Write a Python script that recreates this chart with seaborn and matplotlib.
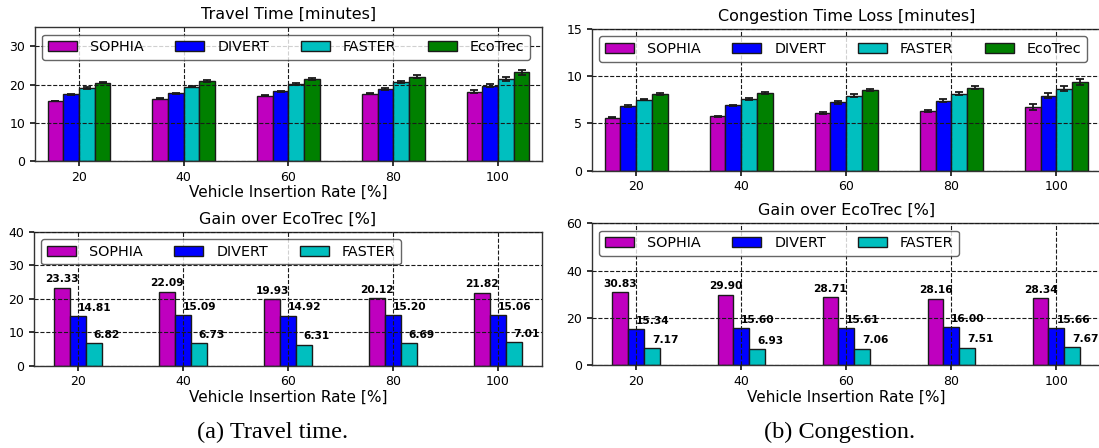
import matplotlib
matplotlib.use("Agg")
import matplotlib.pyplot as plt
import numpy as np
import pandas as pd
import seaborn as sns

# ---------------- data ----------------
rates = [20, 40, 60, 80, 100]
methods4 = ["SOPHIA", "DIVERT", "FASTER", "EcoTrec"]
methods3 = ["SOPHIA", "DIVERT", "FASTER"]

travel_sophia = [15.72, 16.28, 17.13, 17.65, 18.14]
travel_divert = [17.46, 17.75, 18.21, 18.74, 19.71]
travel_faster = [19.10, 19.49, 20.05, 20.62, 21.57]
travel_ecotrec = [20.50, 20.90, 21.40, 22.10, 23.20]
travel_err_sophia = [0.10, 0.15, 0.18, 0.22, 0.35]
travel_err_divert = [0.12, 0.17, 0.20, 0.28, 0.42]
travel_err_faster = [0.15, 0.20, 0.25, 0.32, 0.55]
travel_err_ecotrec = [0.15, 0.20, 0.28, 0.35, 0.62]

cong_sophia = [5.60, 5.75, 6.10, 6.32, 6.74]
cong_divert = [6.86, 6.92, 7.22, 7.39, 7.93]
cong_faster = [7.52, 7.63, 7.95, 8.14, 8.68]
cong_ecotrec = [8.10, 8.20, 8.55, 8.80, 9.40]
cong_err_sophia = [0.07, 0.08, 0.10, 0.13, 0.27]
cong_err_divert = [0.07, 0.08, 0.12, 0.15, 0.25]
cong_err_faster = [0.08, 0.10, 0.12, 0.16, 0.28]
cong_err_ecotrec = [0.08, 0.10, 0.12, 0.18, 0.30]

gain_travel_sophia = [23.33, 22.09, 19.93, 20.12, 21.82]
gain_travel_divert = [14.81, 15.09, 14.92, 15.20, 15.06]
gain_travel_faster = [6.82, 6.73, 6.31, 6.69, 7.01]

gain_cong_sophia = [30.83, 29.90, 28.71, 28.16, 28.34]
gain_cong_divert = [15.34, 15.60, 15.61, 16.00, 15.66]
gain_cong_faster = [7.17, 6.93, 7.06, 7.51, 7.67]

colors = {"SOPHIA": "#bf00bf", "DIVERT": "#0000ff",
          "FASTER": "#00bfbf", "EcoTrec": "#008000"}

# ---------------- style ----------------
sns.set_theme(style="ticks")
plt.rcParams.update({
    "font.family": ["DejaVu Sans"],
    "text.color": "black",
    "axes.labelcolor": "black",
    "axes.titlecolor": "black",
    "axes.edgecolor": "0.2",
    "axes.linewidth": 1.0,
    "xtick.color": "0.1",
    "ytick.color": "0.1",
    "xtick.labelcolor": "black",
    "ytick.labelcolor": "black",
    "xtick.labelsize": 9,
    "ytick.labelsize": 9,
    "xtick.major.size": 3.5,
    "ytick.major.size": 3.5,
})

W, H = 1099, 448
fig = plt.figure(figsize=(W / 100, H / 100), dpi=100)


def px_axes(x0, x1, ytop, ybot):
    return fig.add_axes([x0 / W, (H - ybot) / H, (x1 - x0) / W, (ybot - ytop) / H])


def panel(ax, series, errors, ylim, yticks, title, xlabel, labels, width):
    names = list(series)
    rows = []
    for name in names:
        for r, v in zip(rates, series[name]):
            rows.append({"rate": r, "value": v, "method": name})
    df = pd.DataFrame(rows)
    sns.barplot(data=df, x="rate", y="value", hue="method", hue_order=names,
                palette=colors, saturation=1, native_scale=True, width=width,
                errorbar=None, edgecolor="k", linewidth=1.0, legend=False,
                ax=ax, zorder=1)
    bar_conts = list(ax.containers)
    for name, cont in zip(names, bar_conts):
        xs = [p.get_x() + p.get_width() / 2 for p in cont.patches]
        hs = [p.get_height() for p in cont.patches]
        if errors is not None:
            ax.errorbar(xs, hs, yerr=errors[name], fmt="none", ecolor="k",
                        elinewidth=1.3, capsize=2.6, capthick=1.3, zorder=4)
        if labels:
            for x, h in zip(xs, hs):
                ax.annotate(f"{h:.2f}", (x, h), xytext=(0, 3.8),
                            textcoords="offset points",
                            ha="center" if name == "SOPHIA" else "left",
                            va="baseline", fontsize=7.7, fontweight="bold",
                            color="black", zorder=4)
    ax.set_xticks(rates)
    ax.set_xticklabels([str(r) for r in rates])
    ax.set_xlim(11.6, 108.4)
    ax.set_ylim(*ylim)
    ax.set_yticks(yticks)
    ax.set_axisbelow(False)
    ax.grid(True, linestyle="--", color="k", linewidth=0.8)
    ax.set_title(title, fontsize=11.5, pad=6)
    ax.set_ylabel("")
    ax.set_xlabel(xlabel, fontsize=11, labelpad=1)
    handles = [c.patches[0] for c in bar_conts]
    leg = ax.legend(handles, names, ncol=len(names), loc="upper left",
                    fontsize=10.4, fancybox=True, framealpha=0.8,
                    edgecolor="0.25", borderaxespad=0.5,
                    columnspacing=2.2, handletextpad=0.9)
    leg.get_frame().set_linewidth(1.0)
    for s in ax.spines.values():
        s.set_visible(True)


ax_tl = px_axes(35, 542, 27.3, 161)
ax_tr = px_axes(592, 1100.5, 29, 170.7)
ax_bl = px_axes(34, 542, 231.7, 365.7)
ax_br = px_axes(592, 1100.5, 223.3, 365.3)

panel(ax_tl,
      {"SOPHIA": travel_sophia, "DIVERT": travel_divert,
       "FASTER": travel_faster, "EcoTrec": travel_ecotrec},
      {"SOPHIA": travel_err_sophia, "DIVERT": travel_err_divert,
       "FASTER": travel_err_faster, "EcoTrec": travel_err_ecotrec},
      (0, 35), [0, 10, 20, 30], "Travel Time [minutes]",
      "Vehicle Insertion Rate [%]", False, 0.6)

panel(ax_tr,
      {"SOPHIA": cong_sophia, "DIVERT": cong_divert,
       "FASTER": cong_faster, "EcoTrec": cong_ecotrec},
      {"SOPHIA": cong_err_sophia, "DIVERT": cong_err_divert,
       "FASTER": cong_err_faster, "EcoTrec": cong_err_ecotrec},
      (0, 15), [0, 5, 10, 15], "Congestion Time Loss [minutes]",
      "", False, 0.6)

panel(ax_bl,
      {"SOPHIA": gain_travel_sophia, "DIVERT": gain_travel_divert,
       "FASTER": gain_travel_faster},
      None, (0, 40), [0, 10, 20, 30, 40], "Gain over EcoTrec [%]",
      "Vehicle Insertion Rate [%]", True, 0.45)

panel(ax_br,
      {"SOPHIA": gain_cong_sophia, "DIVERT": gain_cong_divert,
       "FASTER": gain_cong_faster},
      None, (0, 60), [0, 20, 40, 60], "Gain over EcoTrec [%]",
      "Vehicle Insertion Rate [%]", True, 0.45)

fig.text(273 / W, 1 - 432 / H, "(a) Travel time.", ha="center", va="center",
         fontsize=17.5, family=["Liberation Serif", "DejaVu Serif"])
fig.text(840 / W, 1 - 432 / H, "(b) Congestion.", ha="center", va="center",
         fontsize=17.5, family=["Liberation Serif", "DejaVu Serif"])

fig.savefig("out.png", dpi=100)
